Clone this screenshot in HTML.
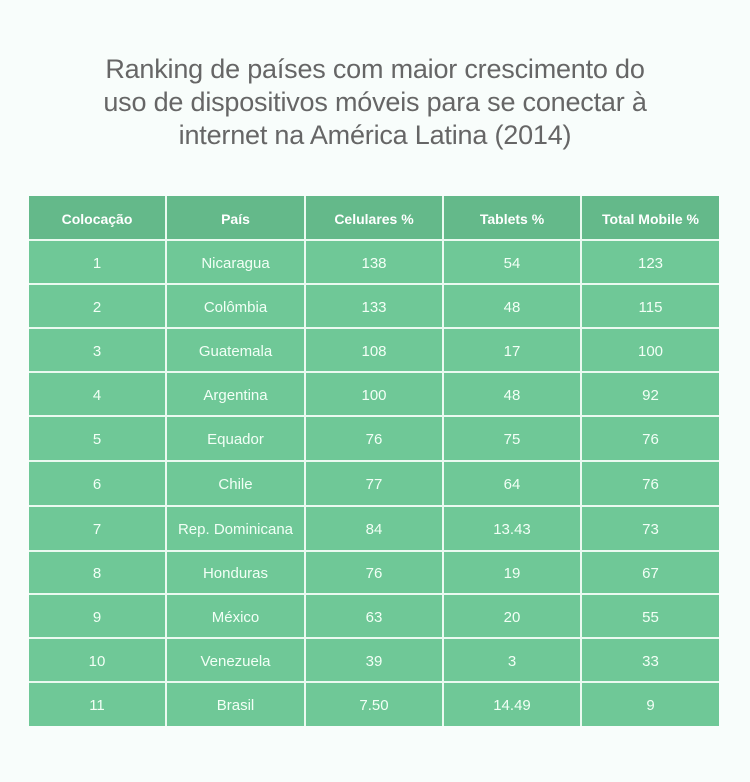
<!DOCTYPE html>
<html><head><meta charset="utf-8"><style>
body{margin:0;width:750px;height:782px;background:#f8fdfb;position:relative;font-family:"Liberation Sans",sans-serif;overflow:hidden}
.t{position:absolute;left:0;width:750px;top:53px;text-align:center;font-size:27px;line-height:33px;color:#666;font-weight:300;letter-spacing:-0.2px}
.r{position:absolute;left:29px;width:690px;display:flex;color:#f2fff6;font-size:15px;background:#6fc897}
.r div{display:flex;align-items:center;justify-content:center;border-right:2px solid #eafaf0;box-sizing:border-box;padding-top:2px}
.r div:last-child{border-right:none}
.h{background:#64b98a;font-weight:bold;color:#fff;font-size:14px}
.line{position:absolute;left:29px;width:690px;height:2px;background:#eafaf0}
</style></head><body>
<div class="t">Ranking de países com maior crescimento do<br>uso de dispositivos móveis para se conectar à<br>internet na América Latina (2014)</div>
<div id="tb"></div>
<script>
var ys=[196,240,284,328,372,416,461,506,551,594,638,682,726];
var d=[["Colocação","País","Celulares %","Tablets %","Total Mobile %"],
["1","Nicaragua","138","54","123"],["2","Colômbia","133","48","115"],["3","Guatemala","108","17","100"],["4","Argentina","100","48","92"],["5","Equador","76","75","76"],["6","Chile","77","64","76"],["7","Rep. Dominicana","84","13.43","73"],["8","Honduras","76","19","67"],["9","México","63","20","55"],["10","Venezuela","39","3","33"],["11","Brasil","7.50","14.49","9"]];
var w=[138,139,138,138,137],h="";
for(var i=0;i<d.length;i++){h+='<div class="r'+(i==0?' h':'')+'" style="top:'+ys[i]+'px;height:'+(ys[i+1]-ys[i])+'px">';
for(var j=0;j<5;j++)h+='<div style="width:'+w[j]+'px">'+d[i][j]+'</div>';h+='</div>';
if(i>0)h+='<div class="line" style="top:'+(ys[i]-1)+'px"></div>';}
document.getElementById('tb').innerHTML=h;
</script>
</body></html>
